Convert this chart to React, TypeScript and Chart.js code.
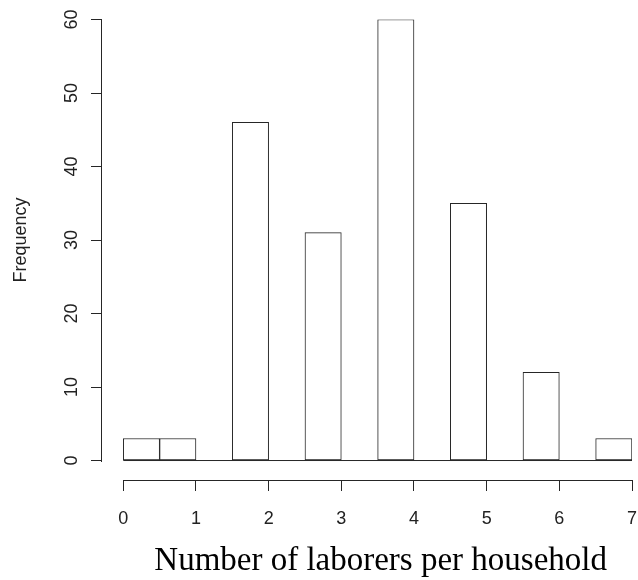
import React, { useEffect, useRef } from "react";
import { Chart, registerables } from "chart.js";

Chart.register(...registerables);

const binStarts = [0, 0.5, 1, 1.5, 2, 2.5, 3, 3.5, 4, 4.5, 5, 5.5, 6, 6.5];
const binWidth = 0.5;
const frequencies = [3, 3, 0, 46, 0, 31, 0, 60, 0, 35, 0, 12, 0, 3];
const xTicks = [0, 1, 2, 3, 4, 5, 6, 7];
const yTicks = [0, 10, 20, 30, 40, 50, 60];
const xTitle = "Number of laborers per household";
const yTitle = "Frequency";

const LINE = "#262626";
const SANS = "'Liberation Sans', Arial, sans-serif";
const SERIF = "'Liberation Serif', 'Times New Roman', serif";

export default function App() {
  const ref = useRef<HTMLCanvasElement | null>(null);

  useEffect(() => {
    document.body.style.margin = "0";
    const canvas = ref.current;
    if (!canvas) return;

    const axesPlugin = {
      id: "rAxes",
      afterDraw(chart: any) {
        const { ctx, chartArea, scales } = chart;
        const xs = scales.x;
        const ys = scales.y;
        ctx.save();
        ctx.setLineDash([]);
        ctx.globalAlpha = 1;
        ctx.fillStyle = LINE;
        // x axis line between first and last tick
        const xb = Math.round(chartArea.bottom);
        const x0 = Math.round(xs.getPixelForValue(xTicks[0]));
        const x1 = Math.round(xs.getPixelForValue(xTicks[xTicks.length - 1]));
        ctx.fillRect(x0, xb, x1 - x0 + 1, 1);
        // y axis line
        const yl = Math.round(chartArea.left) - 1;
        const y0 = Math.round(ys.getPixelForValue(yTicks[0]));
        const y1 = Math.round(ys.getPixelForValue(yTicks[yTicks.length - 1]));
        ctx.fillRect(yl, y1, 1, y0 - y1 + 1);
        // titles
        ctx.fillStyle = "#000";
        ctx.font = `33px ${SERIF}`;
        ctx.textAlign = "center";
        ctx.textBaseline = "alphabetic";
        const xc =
          (xs.getPixelForValue(xTicks[0]) +
            xs.getPixelForValue(xTicks[xTicks.length - 1])) /
          2;
        ctx.fillText(xTitle, xc + 3, 570);
        const yc =
          (ys.getPixelForValue(yTicks[0]) +
            ys.getPixelForValue(yTicks[yTicks.length - 1])) /
          2;
        ctx.save();
        ctx.translate(21, yc);
        ctx.rotate(-Math.PI / 2);
        ctx.font = `18px ${SANS}`;
        ctx.textBaseline = "middle";
        ctx.fillStyle = "#222";
        ctx.fillText(yTitle, 0, 0);
        ctx.restore();
        ctx.restore();
      },
    };

    const chart = new Chart(canvas, {
      type: "bar",
      data: {
        datasets: [
          {
            type: "bar",
            data: binStarts.map((s, i) => ({ x: s + binWidth / 2, y: frequencies[i] })),
            backgroundColor: "#ffffff",
            borderColor: LINE,
            borderWidth: 1,
            borderSkipped: false,
            barPercentage: 1,
            categoryPercentage: 1,
          } as any,
          {
            type: "line",
            data: [
              { x: binStarts[0], y: 0 },
              { x: binStarts[binStarts.length - 1] + binWidth, y: 0 },
            ],
            borderColor: LINE,
            borderWidth: 1,
            pointRadius: 0,
          } as any,
        ],
      },
      options: {
        responsive: false,
        animation: false,
        devicePixelRatio: 1,
        layout: { padding: { left: 0, right: 6, top: 19.5, bottom: 0 } },
        plugins: {
          legend: { display: false },
          tooltip: { enabled: false },
        },
        scales: {
          x: {
            type: "linear",
            offset: false,
            min: -0.293,
            max: 7,
            afterBuildTicks: (s: any) => {
              s.ticks = xTicks.map((v) => ({ value: v }));
            },
            afterFit: (s: any) => {
              s.height = 100;
              s.paddingLeft = 0;
              s.paddingRight = 0;
              s.paddingTop = 0;
              s.paddingBottom = 0;
            },
            border: { display: false },
            grid: {
              offset: false,
              drawOnChartArea: false,
              drawTicks: true,
              tickLength: 11,
              color: LINE,
              lineWidth: 1,
            },
            ticks: {
              font: { family: SANS, size: 18 },
              color: "#222",
              padding: 17,
              maxRotation: 0,
              autoSkip: false,
            },
          },
          y: {
            type: "linear",
            min: -2.65,
            max: 60,
            afterBuildTicks: (s: any) => {
              s.ticks = yTicks.map((v) => ({ value: v }));
            },
            afterFit: (s: any) => {
              s.width = 102;
              s.paddingLeft = 0;
              s.paddingRight = 0;
              s.paddingTop = 0;
              s.paddingBottom = 0;
            },
            border: { display: false },
            grid: {
              drawOnChartArea: false,
              drawTicks: true,
              tickLength: 11,
              color: LINE,
              lineWidth: 1,
            },
            ticks: {
              font: { family: SANS, size: 18 },
              color: "#222",
              padding: 9,
              minRotation: 90,
              maxRotation: 90,
              crossAlign: "center",
              autoSkip: false,
            },
          },
        },
      } as any,
      plugins: [axesPlugin],
    });

    return () => chart.destroy();
  }, []);

  return (
    <div style={{ width: 638, height: 580, background: "#fff" }}>
      <canvas ref={ref} width={638} height={580} style={{ display: "block" }} />
    </div>
  );
}
